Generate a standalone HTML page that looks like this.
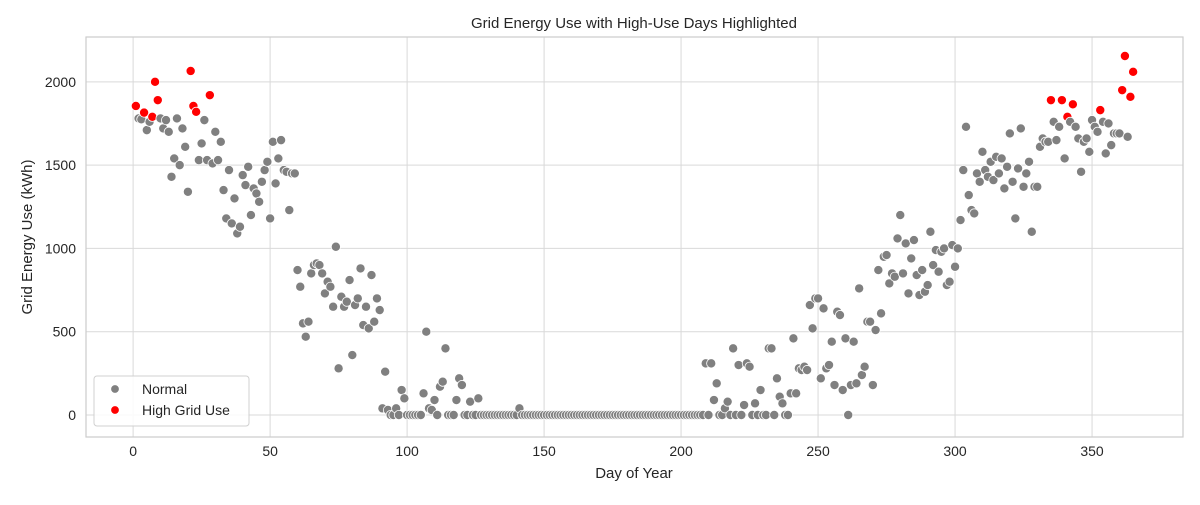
<!DOCTYPE html>
<html><head><meta charset="utf-8"><style>
body{margin:0;background:#fff;font-family:"Liberation Sans",Arial,sans-serif}
svg text{font-family:"Liberation Sans",Arial,sans-serif;fill:#262626}
</style></head><body>
<svg id="chart" width="1200" height="500">
<g id="grid"></g>
<g id="pts"></g>
<g id="axes"></g>
</svg>
<script>
const earlyVals=[1855,1780,1775,1815,1710,1760,1790,2000,1890,1780,1720,1770,1700,1430,1540,1780,1500,1720,1610,1340,2065,1855,1820,1530,1630,1770,1530,1920,1510,1700,1530,1640,1350,1180,1470,1150,1300,1090,1130,1440,1380,1490,1200,1360,1330,1280,1400,1470,1520,1180,1640,1390,1540,1650,1470,1460,1230,1450,1450,870,770,550,470,560,850,900,910,900,850,730,800,770,650,1010,280,710,650,680,810,360,660,700,880,540,650,520,840,560,700,630,40,260,30,0,0,40,0,150,100,0,0,0,0,0,0,130,500,40,30,90,0,170,200,400,0,0,0,90,220,180,0,0,80,0,0,100];
const midVals=[0,0,0,0,0,0,0,0,0,0,0,0,0,0,40];
const lateVals=[310,0,310,90,190,0,0,40,80,0,400,0,300,0,60,310,290,0,70,0,150,0,0,400,400,0,220,110,70,0,0,130,460,130,280,270,290,270,660,520,700,700,220,640,280,300,440,180,620,600,150,460,0,180,440,190,760,240,290,560,560,180,510,870,610,950,960,790,850,830,1060,1200,850,1030,730,940,1050,840,720,870,740,780,1100,900,990,860,980,1000,780,800,1020];
const endVals=[890,1000,1170,1470,1730,1320,1230,1210,1450,1400,1580,1470,1430,1520,1410,1550,1450,1540,1360,1490,1690,1400,1180,1480,1720,1370,1450,1520,1100,1370,1370,1610,1660,1640,1640,1890,1760,1650,1730,1890,1540,1790,1760,1865,1730,1660,1460,1640,1660,1580,1770,1730,1700,1830,1760,1570,1750,1620,1690,1690,1690,1950,2155,1670,1910,2060];
const threshold=1785;
const xTicks=[0,50,100,150,200,250,300,350];
const yTicks=[0,500,1000,1500,2000];
// assemble values for days 1..365
const values=[];
earlyVals.forEach(v=>values.push(v));
while(values.length<126)values.push(0);
midVals.forEach(v=>values.push(v));
while(values.length<208)values.push(0);
lateVals.forEach(v=>values.push(v));
values.length=Math.min(values.length,299);
while(values.length<299)values.push(0);
endVals.forEach(v=>values.push(v));
values.length=365;
const days=values.map((v,i)=>i+1);

const L=86,R=1183,T=37,B=437;
const xmin=-17.2,xmax=383.2,ymin=-132,ymax=2269;
const X=d=>L+(d-xmin)/(xmax-xmin)*(R-L);
const Y=v=>B-(v-ymin)/(ymax-ymin)*(B-T);
const NS="http://www.w3.org/2000/svg";
function mk(tag,attrs,parent,txt){const e=document.createElementNS(NS,tag);for(const k in attrs)e.setAttribute(k,attrs[k]);if(txt!==undefined)e.textContent=txt;parent.appendChild(e);return e;}
const grid=document.getElementById('grid'),axes=document.getElementById('axes'),pts=document.getElementById('pts');
xTicks.forEach(t=>{
  const l=mk('line',{x1:X(t),x2:X(t),y1:T,y2:B,stroke:'#d9d9d9','stroke-width':1},grid);
  
  
  const tx=mk('text',{x:X(t),y:B+19,'text-anchor':'middle','font-size':14},axes,String(t));
  
  
});
yTicks.forEach(t=>{
  const l=mk('line',{x1:L,x2:R,y1:Y(t),y2:Y(t),stroke:'#d9d9d9','stroke-width':1},grid);
  
  
  const tx=mk('text',{x:L-10,y:Y(t)+5,'text-anchor':'end','font-size':14},axes,String(t));
  
  
});
const frame=mk('rect',{x:L,y:T,width:R-L,height:B-T,fill:'none',stroke:'#cccccc','stroke-width':1.2},axes);


days.forEach((d,i)=>{
  const v=values[i];const hi=v>threshold;
  const c=mk('circle',{cx:X(d),cy:Y(v),r:4.6,fill:hi?'#ff0000':'#808080',stroke:'#fff','stroke-width':0.8},pts);
  
  
});
</script>
<svg width="1200" height="500" style="position:absolute;left:0;top:0">
<text x="634" y="28" text-anchor="middle" font-size="15">Grid Energy Use with High-Use Days Highlighted</text>
<text x="634" y="478" text-anchor="middle" font-size="15">Day of Year</text>
<text x="32" y="237" text-anchor="middle" font-size="15" transform="rotate(-90 32 237)">Grid Energy Use (kWh)</text>
<g>
<rect x="94" y="376" width="155" height="50" rx="3" fill="#fff" fill-opacity="0.85" stroke="#d0d0d0"/>
<circle cx="115" cy="389" r="4.3" fill="#808080" stroke="#fff" stroke-width="0.8"/>
<text x="142" y="394" font-size="14">Normal</text>
<circle cx="115" cy="410" r="4.3" fill="#ff0000" stroke="#fff" stroke-width="0.8"/>
<text x="142" y="415" font-size="14">High Grid Use</text>
</g>
</svg>
</body></html>
